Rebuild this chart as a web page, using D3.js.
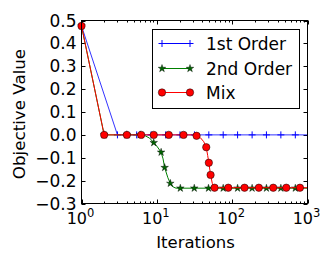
<!DOCTYPE html>
<html><head><meta charset="utf-8">
<script src="https://cdn.jsdelivr.net/npm/d3@7"></script>
<style>body{margin:0;background:#fff}svg{display:block}text{font-family:"DejaVu Sans",sans-serif;fill:#000}</style>
</head><body><svg id="c" width="335" height="266"></svg>
<script>
const seriesNames = ["1st Order", "2nd Order", "Mix"];
const firstOrderLine = [[1,0.476],[3,0],[1000,0]];
const firstOrderMarks = [[1,0.476],[3,0],[5.4,0],[8.4,0],[13.1,0],[20.3,0],[31.6,0],[49,0],[76,0],[118,0],[184,0],[285,0],[443,0],[689,0]];
const secondOrderLine = [[1,0.476],[2,0],[6,0],[7,-0.004],[8,-0.014],[9.1,-0.034],[10.2,-0.053],[11.4,-0.076],[12.1,-0.105],[12.7,-0.143],[14,-0.187],[15.1,-0.212],[16.5,-0.228],[18,-0.233],[1000,-0.233]];
const secondOrderMarks = [[1,0.476],[2,0],[4,0],[6,0],[9.1,-0.034],[11.4,-0.076],[12.7,-0.143],[15.1,-0.212],[20.5,-0.233],[31.4,-0.233],[48.5,-0.233],[76,-0.233],[118,-0.233],[184,-0.233],[285,-0.233],[443,-0.233],[689,-0.233]];
const mixLine = [[1,0.476],[2,0],[29,0],[33.7,-0.004],[38,-0.013],[42,-0.03],[45.3,-0.054],[47.3,-0.09],[49,-0.122],[51.7,-0.175],[54.5,-0.212],[57,-0.228],[60,-0.231],[1000,-0.231]];
const mixMarks = [[1,0.476],[2,0],[4,0],[6.2,0],[9.1,0],[14.4,0],[22.6,0],[33.7,-0.004],[45.3,-0.054],[49,-0.122],[51.7,-0.175],[58.4,-0.231],[88.8,-0.231],[146,-0.231],[226,-0.231],[351,-0.231],[523,-0.231],[794,-0.231]];
const yTicks = [0.5,0.4,0.3,0.2,0.1,0.0,-0.1,-0.2,-0.3];
const yTickLabels = ["0.5","0.4","0.3","0.2","0.1","0.0","\u22120.1","\u22120.2","\u22120.3"];
const xTicks = [1,10,100,1000];
const xTickExp = ["0","1","2","3"];

const svg = d3.select("#c");
const L = 81.5, R = 307.5, T = 20.5, B = 203.5;
const x = d3.scaleLog().domain([1,1000]).range([L,R]);
const y = d3.scaleLinear().domain([-0.3,0.5]).range([B,T]);

// ticks (inside, all four sides)
const tg = svg.append("g").attr("stroke","#000").attr("stroke-width",1);
yTicks.forEach(v=>{
  const yy = Math.round(y(v))+0.5;
  tg.append("line").attr("x1",L).attr("x2",L+4).attr("y1",yy).attr("y2",yy);
  tg.append("line").attr("x1",R).attr("x2",R-4).attr("y1",yy).attr("y2",yy);
});
const minor = [];
for (let d=1; d<1000; d*=10) for (let k=2;k<10;k++) minor.push(d*k);
minor.forEach(v=>{
  const xx = Math.round(x(v))+0.5;
  tg.append("line").attr("x1",xx).attr("x2",xx).attr("y1",B).attr("y2",B-2);
  tg.append("line").attr("x1",xx).attr("x2",xx).attr("y1",T).attr("y2",T+2);
});
xTicks.forEach(v=>{
  const xx = Math.round(x(v))+0.5;
  tg.append("line").attr("x1",xx).attr("x2",xx).attr("y1",B).attr("y2",B-4);
  tg.append("line").attr("x1",xx).attr("x2",xx).attr("y1",T).attr("y2",T+4);
});

// tick labels
yTicks.forEach((v,i)=>{
  svg.append("text").attr("x",L-5).attr("y",y(v)).attr("dy","0.36em")
    .attr("text-anchor","end").attr("font-size",17).text(yTickLabels[i]);
});
xTicks.forEach((v,i)=>{
  const t = svg.append("text").attr("x",x(v)-1).attr("y",223.5).attr("text-anchor","middle").attr("font-size",16);
  t.append("tspan").text("10");
  t.append("tspan").attr("font-size",11.5).attr("dy",-6.5).text(xTickExp[i]);
});

// axis labels
svg.append("text").attr("x",(L+R)/2+1).attr("y",248).attr("text-anchor","middle").attr("font-size",16.5).text("Iterations");
svg.append("text").attr("transform",`translate(25,${(T+B)/2+2}) rotate(-90)`).attr("text-anchor","middle").attr("font-size",16.7).text("Objective Value");

// data
const plot = svg.append("g");
const line = d3.line().x(d=>x(d[0])).y(d=>y(d[1]));
const colors = ["#0000ff","#008000","#ff0000"];

function plusMark(g, cx, cy, col){
  g.append("path").attr("d",`M${cx-3.5},${cy}H${cx+3.5}M${cx},${cy-3.5}V${cy+3.5}`).attr("stroke",col).attr("stroke-width",1).attr("fill","none");
}
const star = d3.symbol().type(d3.symbolStar).size(18);
function starMark(g, cx, cy){
  g.append("path").attr("d",star()).attr("transform",`translate(${cx},${cy})`).attr("fill","#006400").attr("stroke","#000").attr("stroke-width",0.4);
}
function circMark(g, cx, cy){
  g.append("circle").attr("cx",cx).attr("cy",cy).attr("r",3.7).attr("fill","#ff0000").attr("stroke","#000").attr("stroke-width",0.5);
}

plot.append("path").attr("d",line(firstOrderLine)).attr("fill","none").attr("stroke",colors[0]).attr("stroke-width",1).attr("stroke-opacity",0.8);
firstOrderMarks.forEach(d=>plusMark(plot,x(d[0]),y(d[1]),colors[0]));
plot.append("path").attr("d",line(secondOrderLine)).attr("fill","none").attr("stroke",colors[1]).attr("stroke-width",1);
secondOrderMarks.forEach(d=>starMark(plot,x(d[0]),y(d[1])));
plot.append("path").attr("d",line(mixLine)).attr("fill","none").attr("stroke",colors[2]).attr("stroke-width",1);
mixMarks.forEach(d=>circMark(plot,x(d[0]),y(d[1])));

// frame
svg.append("rect").attr("x",L).attr("y",T).attr("width",R-L).attr("height",B-T).attr("fill","none").attr("stroke","#000").attr("stroke-width",1);

// legend
const lg = svg.append("g");
lg.append("rect").attr("x",152.5).attr("y",29.5).attr("width",147).attr("height",79).attr("fill","#fff").attr("stroke","#000").attr("stroke-width",1);
const rows = [43.5, 68.5, 92.5];
const x1 = 162, x2 = 190;
seriesNames.forEach((n,i)=>{
  const ry = rows[i];
  lg.append("line").attr("x1",x1).attr("x2",x2).attr("y1",ry).attr("y2",ry).attr("stroke",colors[i]).attr("stroke-width",1);
  [x1,x2].forEach(px=>{
    if(i===0) plusMark(lg,px,ry,colors[0]);
    else if(i===1) starMark(lg,px,ry);
    else circMark(lg,px,ry);
  });
  lg.append("text").attr("x",206).attr("y",ry).attr("dy","0.36em").attr("font-size",17).text(n);
});
</script></body></html>
